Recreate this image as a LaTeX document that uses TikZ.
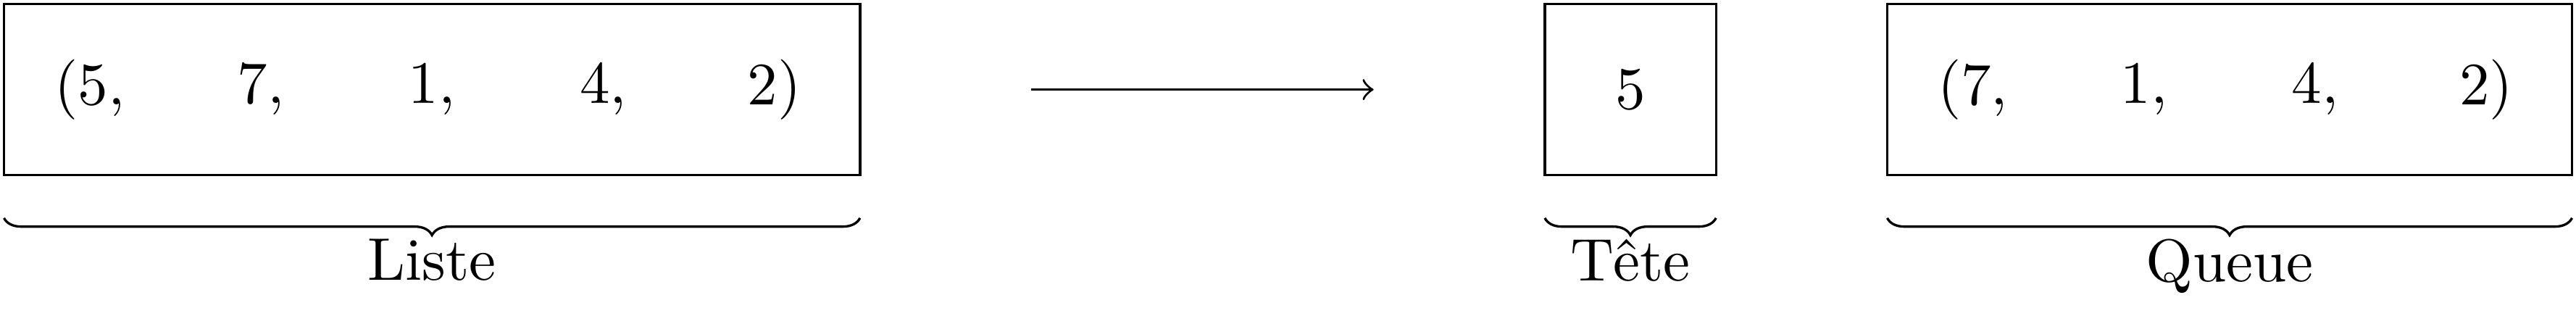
\documentclass[tikz,border=0pt]{standalone}
\usepackage{fontspec}
\usetikzlibrary{decorations.pathreplacing}
\begin{document}
\begin{tikzpicture}[
  box/.style={draw, minimum height=1cm, inner sep=0pt, outer sep=0pt},
  accolade/.style={decorate, decoration={brace, mirror, amplitude=0.1cm}},
  lbl/.style={midway, below},
]
\useasboundingbox (-0.0233,-0.8221) rectangle (15.0233,1.0233);
% boxes
\node[box, minimum width=5cm] (liste) at (2.5,0.5) {};
\node[box, minimum width=1cm] (tete) at (9.5,0.5) {};
\node[box, minimum width=4cm] (queue) at (13,0.5) {};
% list elements
\node (l1) at (0.5,0.5) {$(5,$};
\node (l2) at (1.5,0.5) {$7,$};
\node (l3) at (2.5,0.5) {$1,$};
\node (l4) at (3.5,0.5) {$4,$};
\node (l5) at (4.5,0.5) {$2)$};
\node (t1) at (9.5,0.5) {$5$};
\node (q1) at (11.5,0.5) {$(7,$};
\node (q2) at (12.5,0.5) {$1,$};
\node (q3) at (13.5,0.5) {$4,$};
\node (q4) at (14.5,0.5) {$2)$};
% arrow
\coordinate (a0) at (6,0.5);
\coordinate (a1) at (8,0.5);
\draw[->] (a0) -- (a1);
% braces
\coordinate (b1s) at (0,-0.25);
\coordinate (b1e) at (5,-0.25);
\coordinate (b2s) at (9,-0.25);
\coordinate (b2e) at (10,-0.25);
\coordinate (b3s) at (11,-0.25);
\coordinate (b3e) at (15,-0.25);
\draw[accolade] (b1s) -- (b1e) node[lbl] (n1) {Liste};
\draw[accolade] (b2s) -- (b2e) node[lbl] (n2) {Tête};
\draw[accolade] (b3s) -- (b3e) node[lbl] (n3) {Queue};
\end{tikzpicture}
\end{document}
